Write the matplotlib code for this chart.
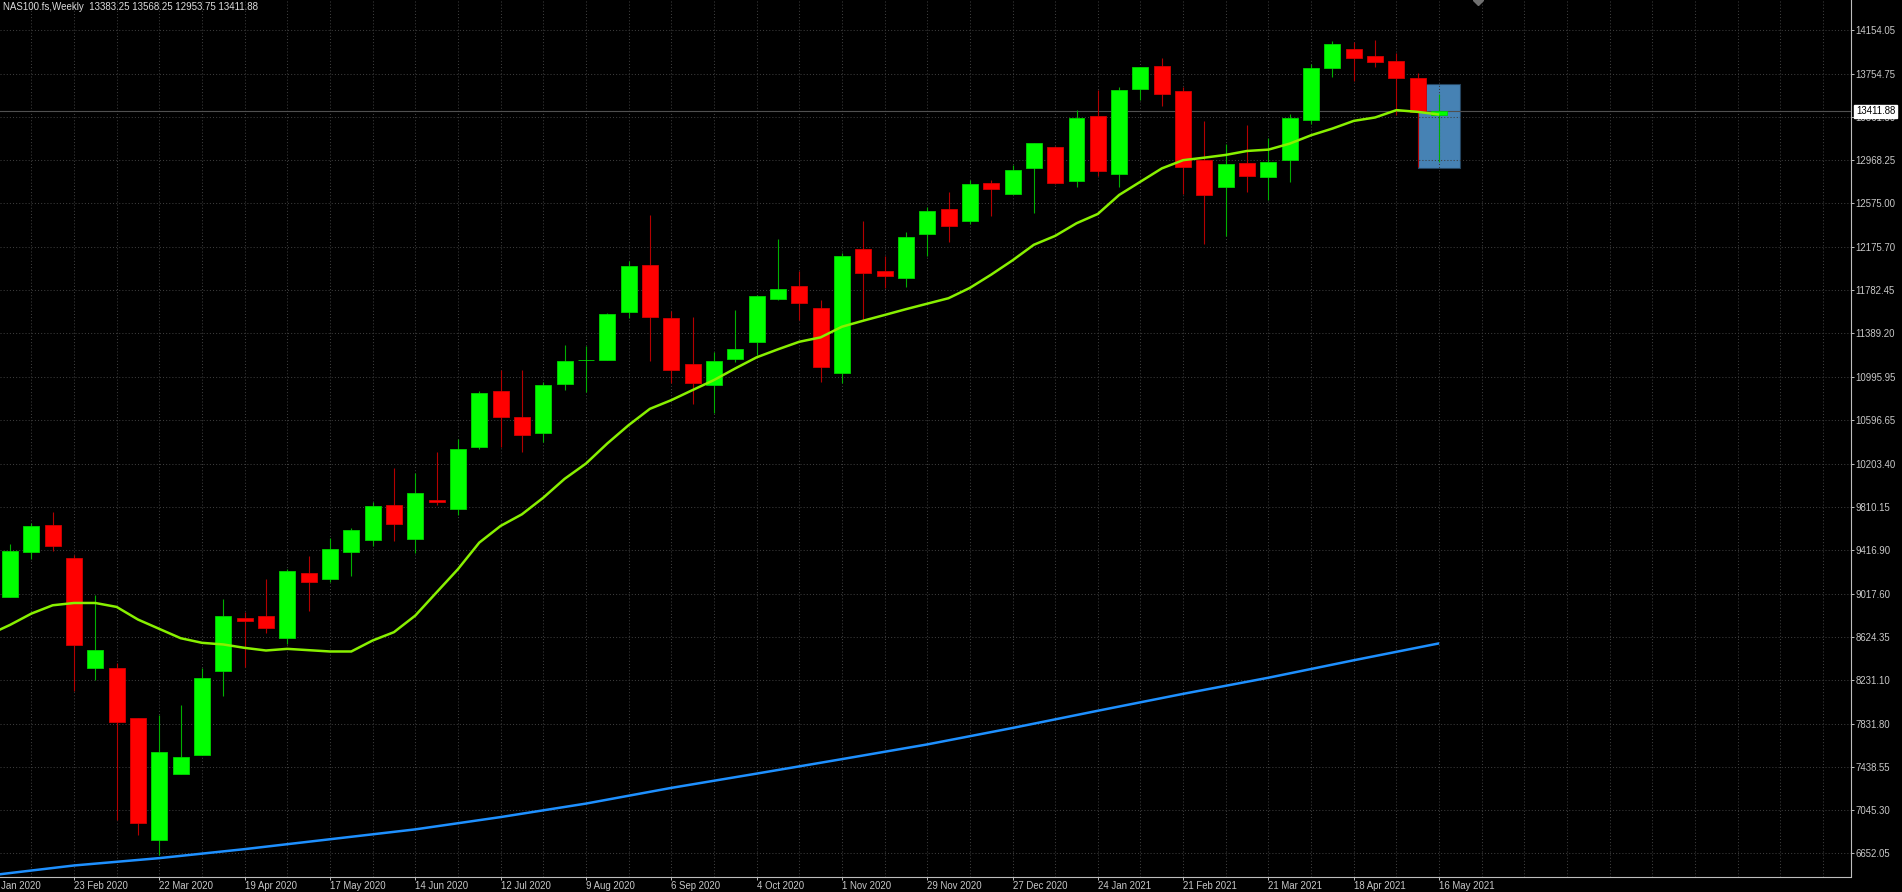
import matplotlib
matplotlib.use("Agg")
import matplotlib.pyplot as plt
import matplotlib.transforms as mtransforms
from matplotlib.patches import Rectangle
import numpy as np
import pandas as pd

plt.rcParams["font.family"] = ["Liberation Sans", "DejaVu Sans"]

header = "NAS100.fs,Weekly  13383.25 13568.25 12953.75 13411.88"

# weekly bars, first visible bar is the week of 2 Feb 2020
first_week = pd.Timestamp("2020-02-02")

opens = [8987, 9402, 9641, 9347, 8340, 8343, 7889, 6773, 7378, 7547,
         8313, 8800, 8815, 8615, 9202, 9148, 9402, 9508, 9828, 9520,
         9868, 9792, 10352, 10860, 10624, 10479, 10926, 11144, 11143, 11581,
         12010, 11529, 11110, 10921, 11152, 11313, 11700, 11821, 11624, 11031,
         12162, 11961, 11894, 12291, 12527, 12415, 12763, 12657, 12893, 13089,
         12775, 13368, 12844, 13619, 13827, 13597, 12967, 12724, 12943, 12815,
         12967, 13332, 13810, 13978, 13917, 13874, 13716, 13383.25]
highs = [9471, 9659, 9765, 9371, 9008, 8388, 7889, 7910, 8004, 8337,
         8972, 8851, 9154, 9244, 9359, 9523, 9613, 9855, 10164, 10119,
         10306, 10430, 10860, 11056, 11056, 10945, 11283, 11271, 11572, 12049,
         12469, 11593, 11535, 11219, 11602, 11739, 12247, 11961, 11693, 12119,
         12414, 12098, 12312, 12545, 12678, 12787, 12787, 12923, 13126, 13095,
         13428, 13604, 13634, 13815, 13897, 13634, 13326, 13119, 13284, 13168,
         13387, 13841, 14057, 14048, 14063, 13947, 13758, 13568.25]
lows = [8987, 9332, 9411, 8131, 8234, 6951, 6821, 6632, 7378, 7547,
        8086, 8349, 8661, 8561, 8860, 9120, 9175, 9453, 9498, 9387,
        9825, 9734, 10339, 10355, 10306, 10397, 10875, 10851, 11143, 11526,
        11137, 10933, 10745, 10660, 11131, 11192, 11693, 11511, 10949, 10940,
        11511, 11800, 11810, 12091, 12221, 12387, 12460, 12657, 12490, 12750,
        12726, 12823, 12726, 13513, 13464, 12660, 12206, 12279, 12678, 12608,
        12769, 13302, 13728, 13691, 13813, 13378, 12906, 12953.75]
closes = [9408, 9638, 9453, 8546, 8506, 7844, 6930, 7572, 7532, 8246,
          8812, 8770, 8706, 9226, 9126, 9429, 9598, 9816, 9656, 9937,
          9849, 10336, 10845, 10624, 10467, 10920, 11138, 11150, 11566, 12004,
          11535, 11058, 10933, 11134, 11250, 11727, 11797, 11669, 11082, 12095,
          11943, 11912, 12272, 12508, 12369, 12750, 12702, 12877, 13120, 12760,
          13349, 12868, 13604, 13815, 13567, 12908, 12651, 12931, 12827, 12955,
          13351, 13810, 14023, 13901, 13865, 13713, 13405, 13411.88]

# fast MA (green), one value per week from 26 Jan 2020 to 16 May 2021
ma_fast = [8643, 8733, 8836, 8912, 8933, 8933, 8897, 8782, 8697, 8612,
           8570, 8555, 8524, 8500, 8515, 8503, 8491, 8491, 8591, 8667,
           8818, 9030, 9241, 9483, 9635, 9741, 9892, 10064, 10203, 10386,
           10553, 10702, 10781, 10873, 10964, 11070, 11171, 11244, 11313, 11353,
           11450, 11505, 11557, 11610, 11660, 11710, 11804, 11925, 12055, 12197,
           12278, 12393, 12478, 12651, 12772, 12893, 12968, 12991, 13016, 13052,
           13064, 13119, 13195, 13256, 13326, 13357, 13424, 13408, 13384]
# slow MA (blue), read every 4th week from 26 Jan 2020
ma_slow = [6449, 6541, 6608, 6690, 6780, 6870, 6982, 7105, 7248, 7378,
           7510, 7644, 7794, 7951, 8105, 8252, 8411, 8565]

price_ticks = [14154.05, 13754.75, 13361.50, 12968.25, 12575.00, 12175.70,
               11782.45, 11389.20, 10995.95, 10596.65, 10203.40, 9810.15,
               9416.90, 9017.60, 8624.35, 8231.10, 7831.80, 7438.55,
               7045.30, 6652.05]
last_price = 13411.88
box_top, box_bottom = 13658, 12897
first_label = "Jan 2020"   # the part of "26 Jan 2020" left visible at the edge


def week_label(i):
    d = first_week + pd.Timedelta(weeks=i)
    return f"{d.day} {d.strftime('%b %Y')}"


W, H = 1902, 892
fig = plt.figure(figsize=(W / 100, H / 100), dpi=100, facecolor="black")
ax = fig.add_axes([0, 15.5 / H, 1851 / W, 876.5 / H], facecolor="black")

n = len(opens)
x = np.arange(n)
o, h, l, c = map(np.asarray, (opens, highs, lows, closes))
up = c >= o

ax.set_xlim(-10 / 21.33, (1851 - 10) / 21.33)
ax.set_ylim(6440.6, 14427.4)

# selection box behind everything
ax.add_patch(Rectangle((66, box_bottom), 2, box_top - box_bottom,
                       facecolor="#4682B4", edgecolor="#24445f", lw=0.8, zorder=0.2))

ax.axhline(last_price, color="#505050", lw=0.8, zorder=0.6)

wick_col = np.where(up, "#00B000", "#B40000")
ax.vlines(x, l, h, colors=wick_col, lw=0.8, zorder=2)
body_col = np.where(up, "#00FF00", "#FF0000")
edge_col = np.where(up, "#00D400", "#D40000")
ax.bar(x, np.abs(c - o), bottom=np.minimum(o, c), width=0.75,
       color=body_col, edgecolor=edge_col, linewidth=0.6, zorder=3)

ax.plot(np.arange(-1, n), ma_fast, color="#88F000", lw=1.8, zorder=4,
        solid_capstyle="butt")
ax.plot(np.arange(-1, n, 4), ma_slow, color="#1E90FF", lw=1.8, zorder=4,
        solid_capstyle="butt")

# chart shift marker at the top
ax.plot([68.8], [14427.4], marker="D", ms=5, color="#707070", clip_on=True, zorder=5)

# grid
ax.set_axisbelow(True)
ax.set_yticks(price_ticks)
ax.set_yticklabels([f"{t:.2f}" for t in price_ticks])
ax.yaxis.tick_right()
label_weeks = list(range(3, n, 4))
ax.set_xticks(label_weeks)
ax.set_xticklabels([week_label(i) for i in label_weeks], ha="left")
ax.set_xticks(np.arange(1, 87, 2), minor=True)
grid_kw = dict(color="#3c3c3c", linestyle=(0, (1, 2)), lw=0.75)
ax.grid(axis="y", **grid_kw)
ax.grid(axis="x", which="both", **grid_kw)

ax.tick_params(axis="y", colors="#bdbdbd", labelcolor="#c8c8c8", labelsize=6.9,
               length=2.2, width=0.7, pad=1.0)
ax.tick_params(axis="x", colors="#bdbdbd", labelcolor="#c8c8c8", labelsize=6.9,
               length=2.2, width=0.7, pad=0.8)
ax.tick_params(axis="x", which="minor", length=0)

for side in ("top", "left"):
    ax.spines[side].set_visible(False)
for side in ("right", "bottom"):
    ax.spines[side].set_color("#bdbdbd")
    ax.spines[side].set_linewidth(0.8)

# first date label, cut by the window edge in the terminal
off = mtransforms.ScaledTranslation(1.0 / 100, -3.0 / 72, fig.dpi_scale_trans)
ax.text(0, 0, first_label, transform=ax.transAxes + off,
        ha="left", va="top", fontsize=6.9, color="#c8c8c8", clip_on=False)

# current price tag
ax.annotate(f"{last_price:.2f}", xy=(1.0, last_price),
            xycoords=("axes fraction", "data"), xytext=(3.5, 0),
            textcoords="offset points", ha="left", va="center",
            fontsize=6.9, color="black", zorder=10, annotation_clip=False,
            bbox=dict(boxstyle="square,pad=0.18", fc="white", ec="white"))

fig.text(3 / W, 1 - 1.5 / H, header, ha="left", va="top",
         fontsize=7, color="#dcdcdc")

fig.savefig("out.png", dpi=100, facecolor="black")
